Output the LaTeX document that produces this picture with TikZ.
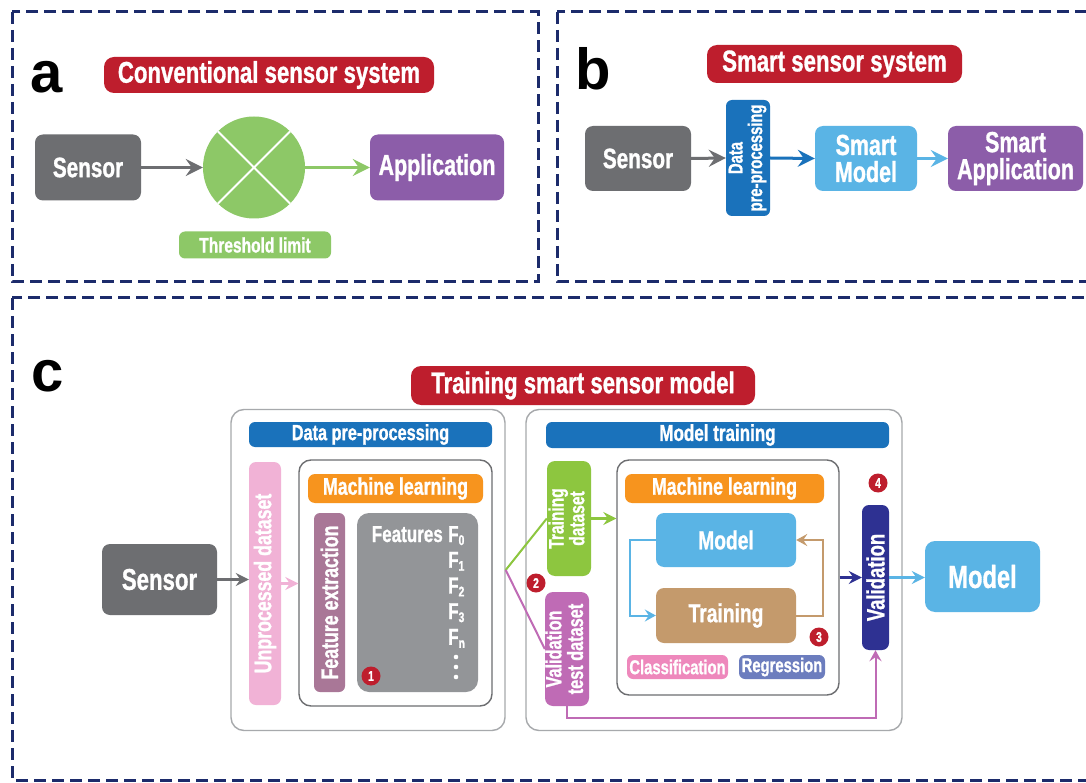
\documentclass[tikz,border=0pt]{standalone}
\usepackage{fontspec}
\usepackage{graphicx}
\usetikzlibrary{arrows.meta,positioning}
\newfontfamily\condfont{Liberation Sans Bold}[FakeStretch=0.74, FakeBold=1]
\newfontfamily\letterfont{Liberation Sans Bold}
\definecolor{framenavy}{HTML}{1C2B6B}
\definecolor{titlered}{HTML}{BE1E2D}
\definecolor{sensorgray}{HTML}{6D6E71}
\definecolor{threshgreen}{HTML}{8DC867}
\definecolor{apppurple}{HTML}{8C5DA9}
\definecolor{prepblue}{HTML}{1A72BB}
\definecolor{lightblue}{HTML}{5AB4E5}
\definecolor{pinkds}{HTML}{F1B2D6}
\definecolor{mlorange}{HTML}{F7941E}
\definecolor{featmauve}{HTML}{A97797}
\definecolor{featgray}{HTML}{939598}
\definecolor{traingreen}{HTML}{8DC63F}
\definecolor{valpurple}{HTML}{BF6BB5}
\definecolor{tanbrown}{HTML}{C49A6C}
\definecolor{classpink}{HTML}{EE88BC}
\definecolor{regblue}{HTML}{6C7DBE}
\definecolor{validnavy}{HTML}{2E3192}
\definecolor{panelgray}{HTML}{A7A9AC}
\newcommand\fsz[1]{\fontsize{#1pt}{#1pt}\selectfont}
\newcommand\vlabel[1]{\rotatebox{90}{\renewcommand\arraystretch{0.86}\begin{tabular}{@{}c@{}}#1\end{tabular}}}
\newcommand\fsubnum[1]{\raisebox{-3pt}{\fsz{14}#1}}

\begin{document}
\begin{tikzpicture}[x=1pt, y=-1pt,
    frame/.style={draw=framenavy, line width=3pt, dash pattern=on 12pt off 6pt},
    box/.style={rounded corners=8pt, text=white, align=center, inner sep=0pt, font=\condfont\fsz{#1}},
    box/.default=28,
    title/.style={box=30, fill=titlered, rounded corners=10pt},
    letter/.style={font=\letterfont\fsz{58}, anchor=base, inner sep=0pt},
    panel/.style={draw=panelgray, line width=1.4pt, rounded corners=13pt},
    mlpanel/.style={draw=sensorgray, line width=1.4pt, rounded corners=12pt},
    badge/.style={circle, fill=titlered, text=white, minimum size=19pt, inner sep=0pt, font=\condfont\fsz{14}},
    ftext/.style={font=\condfont\fsz{23}, text=white, inner sep=0pt},
    arrow/.style={-{Stealth[length=17pt,width=17pt,inset=6pt]}, line width=3pt},
    carrow/.style={-{Stealth[length=13pt,width=13pt,inset=4.5pt]}, line width=2.4pt},
    looparrow/.style={-{Stealth[length=11pt,width=12pt,inset=4pt]}, line width=2pt}
  ]
  \fill[white] (0,0) rectangle (1086,783);
  \useasboundingbox (0,0) rectangle (1086,783);

  % a
  \draw[frame] (12,12) rectangle (538,282);
  \node[letter] (labA) at (47,93) {a};
  \node[title, minimum width=330, minimum height=36] (titleA) at (269,75) {Conventional sensor system};
  \node[box=28, fill=sensorgray, minimum width=106, minimum height=66] (sensorA) at (88,167.5) {Sensor};
  \node[circle, fill=threshgreen, minimum size=102, inner sep=0pt] (gate) at (254,167.5) {};
  \draw[white, line width=2pt] (gate.45) -- (gate.225) (gate.135) -- (gate.315);
  \node[box=29, fill=apppurple, minimum width=134, minimum height=66] (appA) at (437,167.5) {Application};
  \node[box=21, fill=threshgreen, rounded corners=6pt, minimum width=152, minimum height=27] (limitA) at (255,245) {Threshold limit};
  \draw[arrow, sensorgray] (sensorA.east) -- (gate.west);
  \draw[arrow, threshgreen] (gate.east) -- (appA.west);

  % b
  \draw[frame] (557,12) rectangle (1110,282);
  \node[letter] (labB) at (593,90) {b};
  \node[title, minimum width=255, minimum height=38] (titleB) at (834.5,64) {Smart sensor system};
  \node[box=28, fill=sensorgray, minimum width=106, minimum height=65] (sensorB) at (638,158.5) {Sensor};
  \node[box=20, fill=prepblue, rounded corners=6pt, minimum width=44, minimum height=116] (prepB) at (748,158) {\vlabel{Data\\pre-processing}};
  \node[box=29, fill=lightblue, minimum width=102, minimum height=65] (smodelB) at (866,158.5) {Smart\\[-2pt]Model};
  \node[box=29, fill=apppurple, minimum width=135, minimum height=65] (sappB) at (1015.5,158.5) {Smart\\[-2pt]Application};
  \draw[arrow, sensorgray] (sensorB.east) -- (prepB.west);
  \draw[arrow, prepblue] (prepB.east) -- (smodelB.west);
  \draw[arrow, lightblue] (smodelB.east) -- (sappB.west);

  % c
  \draw[frame] (12,298) rectangle (1110,780);
  \node[letter] (labC) at (48,391) {c};
  \node[title, minimum width=344, minimum height=39] (titleC) at (583,385.5) {Training smart sensor model};
  \node[box=30, fill=sensorgray, minimum width=115, minimum height=71] (sensorC) at (159.5,579.5) {Sensor};

  \node[panel, minimum width=274, minimum height=321] (prepPanel) at (368,570) {};
  \node[box=22, fill=prepblue, rounded corners=6pt, minimum width=243, minimum height=25] (prepBar) at (370.5,434.5) {Data pre-processing};
  \node[box=24, fill=pinkds, rounded corners=7pt, minimum width=32, minimum height=243] (rawData) at (265,583.5) {\rotatebox{90}{Unprocessed dataset}};
  \node[mlpanel, minimum width=193, minimum height=246] (mlPanelA) at (395.5,583) {};
  \node[box=24, fill=mlorange, rounded corners=7pt, minimum width=175, minimum height=29] (mlBarA) at (395.5,488.5) {Machine learning};
  \node[box=24, fill=featmauve, rounded corners=6pt, minimum width=31, minimum height=179] (featEx) at (329.5,602.5) {\rotatebox{90}{Feature extraction}};
  \node[box, fill=featgray, rounded corners=12pt, minimum width=121, minimum height=179] (featBox) at (417.5,602.5) {};
  \foreach \s [count=\i from 0] in {0,1,2,3,n}
    \node[ftext, anchor=base west] (F\s) at (448,{542+25.7*\i}) {F\fsubnum{\s}};
  \node[ftext, anchor=base east] (featLabel) at ([xshift=-5pt]F0.base west) {Features};
  \foreach \d in {657,667,677}
    \fill[white] (456,\d) circle (2.3pt);
  \node[badge] (badge1) at (371,676) {1};

  \node[panel, minimum width=376, minimum height=321] (trainPanel) at (714,570) {};
  \node[box=23, fill=prepblue, rounded corners=6pt, minimum width=343, minimum height=26] (trainBar) at (717.5,435) {Model training};
  \node[box=21, fill=traingreen, minimum width=44, minimum height=115] (trainData) at (569,518.5) {\vlabel{Training\\dataset}};
  \node[box=22, fill=valpurple, minimum width=44, minimum height=114] (testData) at (567,649) {\vlabel{Validation\\test dataset}};
  \node[badge] (badge2) at (536,583) {2};
  \node[mlpanel, minimum width=222, minimum height=235] (mlPanelB) at (728,577.5) {};
  \node[box=24, fill=mlorange, rounded corners=7pt, minimum width=199, minimum height=29] (mlBarB) at (724.5,488.5) {Machine learning};
  \node[box=26, fill=lightblue, minimum width=140, minimum height=54] (modelIn) at (726,540) {Model};
  \node[box=26, fill=tanbrown, minimum width=140, minimum height=55] (trainIn) at (726,615.5) {Training};
  \node[box=20, fill=classpink, rounded corners=6pt, minimum width=101, minimum height=24] (classN) at (677.5,667) {Classification};
  \node[box=20, fill=regblue, rounded corners=6pt, minimum width=86, minimum height=24] (regN) at (782,667) {Regression};
  \node[badge] (badge3) at (819,637) {3};
  \node[badge] (badge4) at (878,483) {4};
  \node[box=25, fill=validnavy, rounded corners=7pt, minimum width=27, minimum height=145] (validN) at (875.5,577.5) {\rotatebox{90}{Validation}};
  \node[box=32, fill=lightblue, rounded corners=10pt, minimum width=115, minimum height=71] (modelOut) at (982.5,576.5) {Model};

  \coordinate (split) at (prepPanel.east);
  \draw[carrow, sensorgray] (sensorC.east) -- (sensorC.east -| rawData.west);
  \draw[carrow, pinkds] (rawData.east) -- (rawData.east -| mlPanelA.west);
  \draw[traingreen, line width=2pt] (split) -- (trainData.west);
  \draw[valpurple, line width=2pt] (split) -- (testData.west);
  \draw[carrow, traingreen] (trainData.east) -- (trainData.east -| mlPanelB.west);
  \draw[looparrow, lightblue] (modelIn.west) -- ++(-26,0) |- (trainIn.west);
  \draw[looparrow, tanbrown] (trainIn.east) -- ++(27,0) |- (modelIn.east);
  \draw[carrow, validnavy] (mlPanelB.east) -- (mlPanelB.east -| validN.west);
  \draw[carrow, lightblue] (validN.east) -- (validN.east -| modelOut.west);
  \draw[looparrow, valpurple] (testData.south) -- ++(0,12) -| (validN.south);
\end{tikzpicture}
\end{document}
